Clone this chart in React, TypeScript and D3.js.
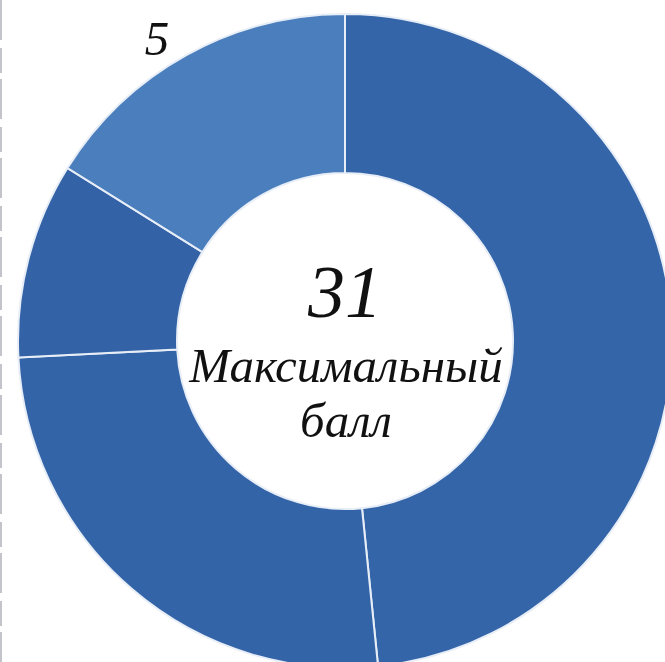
import React from "react";
import * as d3 from "d3";

const categories = ["A", "B", "C", "D"];
const values = [15, 8, 3, 5];
const colors = ["#3465a9", "#3464a8", "#3363a6", "#4a7ebd"];
const shownLabels = [false, false, false, true];
const totalLabel = "31";
const centerLines = ["Максимальный", "балл"];

export default function App() {
  const W = 665;
  const H = 662;
  const cx = 345;
  const cy = 341;
  const rOuter = 327;
  const rInner = 168;

  const pie = d3
    .pie<number>()
    .sort(null)
    .value((d) => d)
    .startAngle(0)
    .endAngle(2 * Math.PI);
  const arcs = pie(values);
  const arc = d3.arc<d3.PieArcDatum<number>>().innerRadius(rInner).outerRadius(rOuter);
  const labelR = 356;

  const font = "'Liberation Serif', 'Times New Roman', serif";

  return (
    <svg
      width={W}
      height={H}
      style={{ position: "absolute", left: 0, top: 0, background: "#fff" }}
    >
      <rect x={0} y={0} width={W} height={H} fill="#fff" />
      <line x1={1} y1={0} x2={1} y2={H} stroke="#9a9ea6" strokeWidth={2} strokeDasharray="40 8 25 6" opacity={0.6} />
      <g transform={`translate(${cx},${cy})`}>
        {arcs.map((a, i) => (
          <path
            key={categories[i]}
            d={arc(a) || ""}
            fill={colors[i]}
            stroke="#e8eef7"
            strokeWidth={2}
          />
        ))}
        {arcs.map((a, i) => {
          if (!shownLabels[i]) return null;
          const mid = (a.startAngle + a.endAngle) / 2 - 0.05;
          const x = labelR * Math.sin(mid);
          const y = -labelR * Math.cos(mid);
          return (
            <text
              key={"l" + i}
              x={x}
              y={y}
              textAnchor="middle"
              dominantBaseline="central"
              fontFamily={font}
              fontStyle="italic"
              fontSize={49}
              fill="#111"
            >
              {values[i]}
            </text>
          );
        })}
        <text
          x={0}
          y={-24}
          textAnchor="middle"
          fontFamily={font}
          fontStyle="italic"
          fontSize={74}
          fill="#111"
        >
          {totalLabel}
        </text>
        {centerLines.map((t, i) => (
          <text
            key={t}
            x={1}
            y={41 + i * 55}
            textAnchor="middle"
            fontFamily={font}
            fontStyle="italic"
            fontSize={49}
            fill="#111"
          >
            {t}
          </text>
        ))}
      </g>
    </svg>
  );
}
